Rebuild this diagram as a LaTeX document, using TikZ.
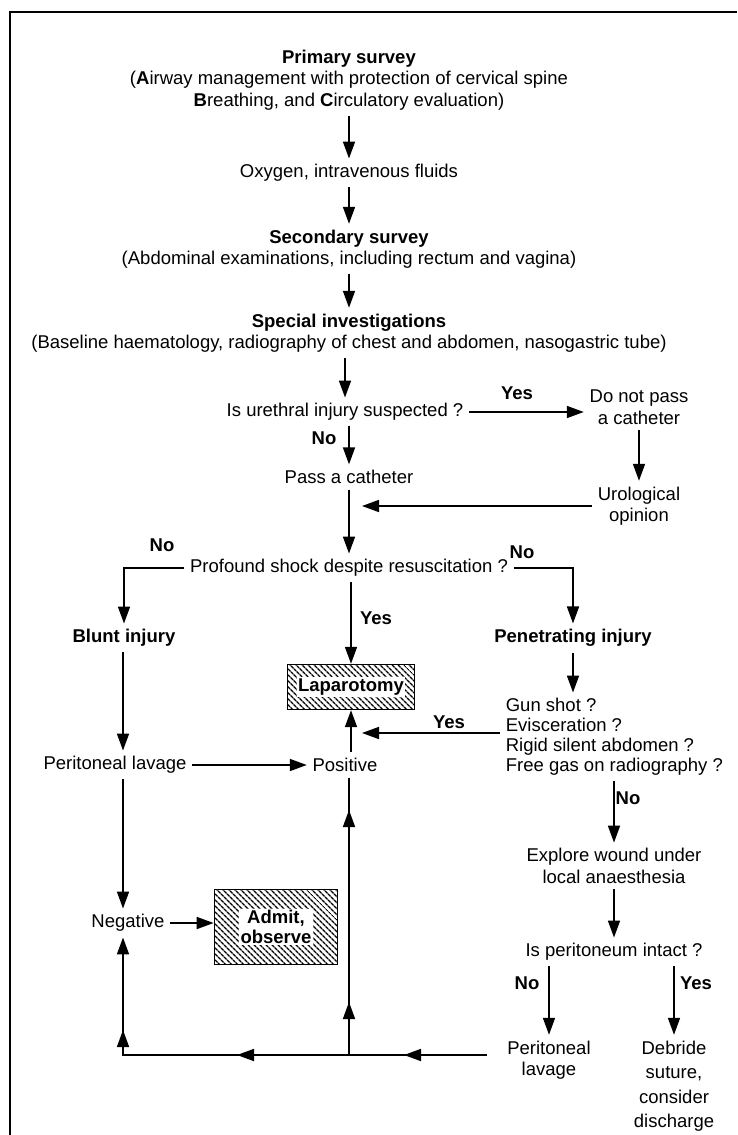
\documentclass[tikz,border=0pt]{standalone}
\usepackage{fontspec}
\setmainfont{Liberation Sans}
\usetikzlibrary{arrows.meta, patterns.meta, decorations.markings, calc}

\begin{document}
\begin{tikzpicture}[x=1pt, y=-1pt, >={Triangle[length=17pt,width=12pt]}, line width=1.7pt]
        \tikzstyle{txt}=[inner sep=5pt, align=center, font=\fontsize{18.5}{21.5}\selectfont]
        \tikzstyle{btxt}=[txt, font=\fontsize{18.5}{21.5}\selectfont\bfseries]
        \tikzstyle{lbl}=[inner sep=0pt, font=\fontsize{18.5}{21.5}\selectfont\bfseries]
        \tikzstyle{hatchbox}=[draw, line width=1.7pt, inner sep=0pt, pattern={Lines[angle=-45, distance=4pt, line width=1.4pt]}]
        \tikzstyle{knock}=[fill=white, inner sep=1.5pt, align=center, font=\fontsize{18.5}{20}\selectfont\bfseries]
        \useasboundingbox (0,0) rectangle (737,1135);

        % Frame
        \draw[line width=2.5pt] (737,12) -- (10,12) -- (10,1135);

        % Main column
        \node[txt] (primary) at (349,80) {\textbf{Primary survey}\\(\textbf{A}irway management with protection of cervical spine\\\textbf{B}reathing, and \textbf{C}irculatory evaluation)};
        \node[txt] (oxygen) at (349,173) {Oxygen, intravenous fluids};
        \node[txt] (secondary) at (349,249) {\textbf{Secondary survey}\\(Abdominal examinations, including rectum and vagina)};
        \node[txt] (special) at (349,333) {\textbf{Special investigations}\\(Baseline haematology, radiography of chest and abdomen, nasogastric tube)};
        \node[txt] (urethral) at (345,412) {Is urethral injury suspected ?};
        \node[txt] (donot) at (639,407) {Do not pass\\a catheter};
        \node[txt] (pass) at (349,477) {Pass a catheter};
        \node[txt] (uro) at (639,506) {Urological\\opinion};
        \node[txt] (shock) at (349,568) {Profound shock despite resuscitation ?};

        % Branches
        \node[btxt] (blunt) at (124,638) {Blunt injury};
        \node[btxt] (pen) at (573,638) {Penetrating injury};
        \node[hatchbox, minimum width=127pt, minimum height=45pt] (lap) at (351,687) {};
        \node[knock] (laptext) at (lap) {Laparotomy};
        \node[txt, align=left, anchor=west, font=\fontsize{18.5}{20}\selectfont] (gun) at (500,737) {Gun shot ?\\Evisceration ?\\Rigid silent abdomen ?\\Free gas on radiography ?};
        \node[txt] (perlav) at (115,765) {Peritoneal lavage};
        \node[txt] (pos) at (345,765) {Positive};
        \node[txt] (explore) at (614,866) {Explore wound under\\local anaesthesia};
        \node[txt] (intact) at (614,952) {Is peritoneum intact ?};
        \node[txt] (neg) at (128,923) {Negative};
        \node[hatchbox, minimum width=123pt, minimum height=75pt] (admit) at (276,927) {};
        \node[knock] (admittext) at (admit) {Admit,\\observe};
        \node[txt] (perlav2) at (549,1060) {Peritoneal\\lavage};
        \node[txt, font=\fontsize{18.5}{24.5}\selectfont] (debride) at (674,1086) {Debride\\suture,\\consider\\discharge};

        % Yes / No labels
        \node[lbl] (yes1) at (517,393) {Yes};
        \node[lbl] (no1) at (324,438) {No};
        \node[lbl] (no2) at (162,545) {No};
        \node[lbl] (no3) at (522,552) {No};
        \node[lbl] (yes2) at (376,618) {Yes};
        \node[lbl] (yes3) at (449,722) {Yes};
        \node[lbl] (no4) at (628,798) {No};
        \node[lbl] (no5) at (527,983) {No};
        \node[lbl] (yes4) at (696,983) {Yes};

        % Free ends
        \coordinate (uroend) at (362,506);
        \coordinate (posin) at (362,733);
        \coordinate (loopR) at (487,1055);
        \coordinate (loopM) at (349,1055);
        \coordinate (loopL) at (123,1055);

        % Arrows
        \draw[->] (primary) -- (oxygen);
        \draw[->] (oxygen) -- (secondary);
        \draw[->] (secondary) -- (special);
        \draw[->] (special.south -| urethral) -- (urethral);
        \draw[->] (urethral.east) -- (urethral.east -| donot.west);
        \draw[->] (urethral.south -| pass) -- (pass);
        \draw[->] (donot) -- (uro);
        \draw[->] (uro.west) -- (uroend);
        \draw[->] (pass) -- (shock);
        \draw[->] (shock.west) -| (blunt);
        \draw[->] (shock.east) -| (pen);
        \draw[->] (shock.south -| lap) -- (lap);
        \draw[->] (blunt.south -| loopL) -- (perlav.north -| loopL);
        \draw[->] (pen.south) -- (pen.south |- gun.north);
        \draw[->] (gun.west |- posin) -- (posin);
        \draw[->] (pos.north -| lap) -- (lap);
        \draw[->] (perlav.east) -- (pos.west);
        \draw[->] (perlav.south -| loopL) -- (neg.north -| loopL);
        \draw[->] (neg.east) -- (neg.east -| admit.west);
        \draw[->] (gun.south -| explore) -- (explore);
        \draw[->] (explore) -- (intact);
        \draw[->] (intact.south -| perlav2) -- (perlav2);
        \draw[->] (intact.south -| debride) -- (debride);

        % Return loop
        \draw[->, postaction={decorate}, decoration={markings,
              mark=at position 83pt with {\arrow{>}},
              mark=at position 250pt with {\arrow{>}},
              mark=at position 389pt with {\arrow{>}}}]
            (loopR) -- (loopL) -- (neg.south -| loopL);
        \draw[postaction={decorate}, decoration={markings,
              mark=at position 53pt with {\arrow{>}},
              mark=at position 245pt with {\arrow{>}}}]
            (loopM) -- (pos.south -| loopM);
    \end{tikzpicture}
\end{document}
